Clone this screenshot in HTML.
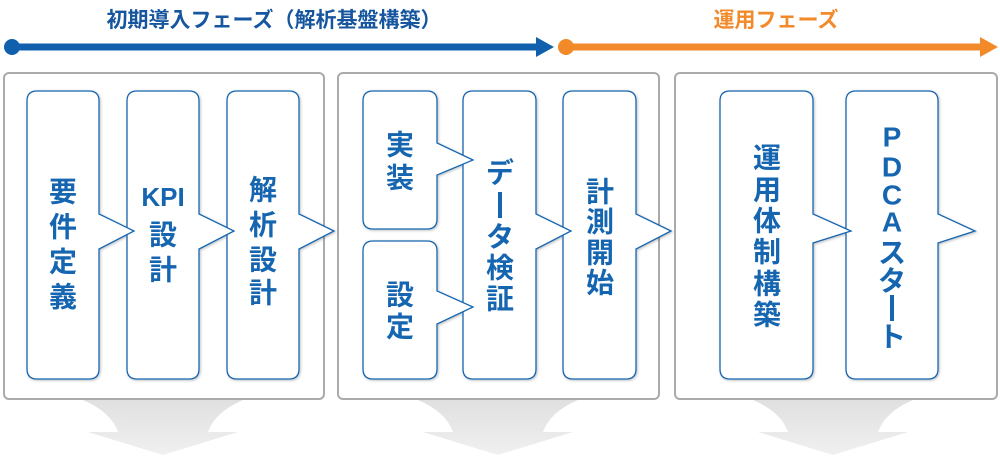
<!DOCTYPE html>
<html><head><meta charset="utf-8"><style>
html,body{margin:0;padding:0;background:#fff;width:1000px;height:470px;overflow:hidden}
svg text{font-family:"Liberation Sans","Noto Sans CJK JP",sans-serif;font-weight:bold}
</style></head><body>
<svg width="1000" height="470" viewBox="0 0 1000 470" xmlns="http://www.w3.org/2000/svg">
<defs>
<linearGradient id="g" x1="0" y1="0" x2="0" y2="1"><stop offset="0" stop-color="#e0e0e0"/><stop offset="1" stop-color="#f0f0f0"/></linearGradient>
<filter id="sh" x="-10%" y="-10%" width="130%" height="130%"><feDropShadow dx="1" dy="1" stdDeviation="1.2" flood-color="#000" flood-opacity="0.25"/></filter>
</defs>
<text x="274" y="27" font-size="21" fill="#16569e" text-anchor="middle">初期導入フェーズ（解析基盤構築）</text>
<text x="776" y="27" font-size="21" fill="#f28a2a" text-anchor="middle">運用フェーズ</text>
<line x1="12" y1="47" x2="540" y2="47" stroke="#1160ae" stroke-width="7"/>
<circle cx="12" cy="47" r="8" fill="#1160ae"/>
<polygon points="536,37 554,47 536,57" fill="#1160ae"/>
<line x1="566" y1="47" x2="984" y2="47" stroke="#f28a2a" stroke-width="7"/>
<circle cx="566" cy="47" r="8" fill="#f28a2a"/>
<polygon points="980,37 998,47 980,57" fill="#f28a2a"/>
<g fill="url(#g)">
<path d="M83,400 H243 Q215,412 208,432 H238 L163,455 L88,432 H118 Q111,412 83,400 Z"/>
<path d="M418,400 H578 Q550,412 543,432 H573 L498,455 L423,432 H453 Q446,412 418,400 Z"/>
<path d="M753,400 H913 Q885,412 878,432 H908 L833,455 L758,432 H788 Q781,412 753,400 Z"/>
</g>
<g fill="#fff" stroke="#aaa" stroke-width="2">
<rect x="4" y="73" width="320" height="326" rx="5"/>
<rect x="338" y="73" width="321" height="326" rx="5"/>
<rect x="675" y="73" width="322" height="326" rx="5"/>
</g>
<g fill="#fff" stroke="#1565b0" stroke-width="1.3" filter="url(#sh)">
<path d="M237,91 H289 Q299,91 299,101 V214 L334,231 L299,249 V369 Q299,379 289,379 H237 Q227,379 227,369 V101 Q227,91 237,91 Z"/>
<path d="M137,91 H189 Q199,91 199,101 V214 L234,231 L199,249 V369 Q199,379 189,379 H137 Q127,379 127,369 V101 Q127,91 137,91 Z"/>
<path d="M37,91 H89 Q99,91 99,101 V214 L134,231 L99,249 V369 Q99,379 89,379 H37 Q27,379 27,369 V101 Q27,91 37,91 Z"/>
<path d="M573,91 H626 Q636,91 636,101 V214 L671,231 L636,249 V369 Q636,379 626,379 H573 Q563,379 563,369 V101 Q563,91 573,91 Z"/>
<path d="M473,91 H526 Q536,91 536,101 V214 L571,231 L536,249 V369 Q536,379 526,379 H473 Q463,379 463,369 V101 Q463,91 473,91 Z"/>
<path d="M373,91 H427 Q437,91 437,101 V143 L473,160 L437,175 V219 Q437,229 427,229 H373 Q363,229 363,219 V101 Q363,91 373,91 Z"/>
<path d="M373,241 H427 Q437,241 437,251 V291 L473,307 L437,324 V369 Q437,379 427,379 H373 Q363,379 363,369 V251 Q363,241 373,241 Z"/>
<path d="M856,91 H928 Q938,91 938,101 V214 L975,231 L938,243 V369 Q938,379 928,379 H856 Q846,379 846,369 V101 Q846,91 856,91 Z"/>
<path d="M730,91 H803 Q813,91 813,101 V214 L851,231 L813,243 V369 Q813,379 803,379 H730 Q720,379 720,369 V101 Q720,91 730,91 Z"/>
</g>
<g fill="#1565b0" font-size="28" text-anchor="middle" dominant-baseline="central">
<text x="63" y="192">要</text><text x="63" y="227">件</text><text x="63" y="262">定</text><text x="63" y="297">義</text>
<text x="163" y="197" font-size="26">KPI</text><text x="163" y="235">設</text><text x="163" y="270">計</text>
<text x="263" y="190">解</text><text x="263" y="225">析</text><text x="263" y="260">設</text><text x="263" y="293">計</text>
<text x="400" y="145">実</text><text x="400" y="178">装</text>
<text x="400" y="295">設</text><text x="400" y="327">定</text>
<text x="500" y="173">デ</text><text x="500" y="237">タ</text><text x="500" y="268">検</text><text x="500" y="299">証</text>
<text x="600" y="192">計</text><text x="600" y="222">測</text><text x="600" y="253">開</text><text x="600" y="283">始</text>
<text x="767" y="158">運</text><text x="767" y="190">用</text><text x="767" y="221">体</text><text x="767" y="252">制</text><text x="767" y="284">構</text><text x="767" y="315">築</text>
<text x="892" y="137">P</text><text x="892" y="167">D</text><text x="892" y="195">C</text><text x="892" y="222">A</text><text x="892" y="253">ス</text><text x="892" y="281">タ</text><text x="892" y="337">ト</text>
</g>
<rect x="498" y="192" width="4" height="26" fill="#1565b0"/>
<rect x="890" y="295" width="4" height="26" fill="#1565b0"/>
</svg>
</body></html>
